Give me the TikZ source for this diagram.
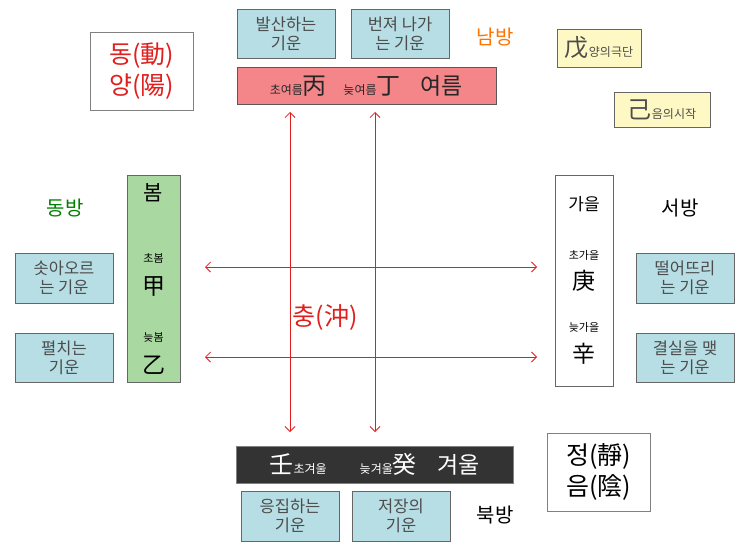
\documentclass[tikz,border=0pt]{standalone}
\usepackage{fontspec}
\setmainfont{Noto Sans CJK KR}
\usetikzlibrary{arrows.meta}
\definecolor{teal}{HTML}{B7DEE4}
\definecolor{yel}{HTML}{FDF8C4}
\definecolor{pinkb}{HTML}{F4868A}
\definecolor{grn}{HTML}{A9D8A0}
\definecolor{rd}{HTML}{E0201E}
\begin{document}
\begin{tikzpicture}[x=1pt,y=-1pt,
 box/.style={draw=gray!80!black,line width=0.8pt,fill=teal,inner sep=0pt,text=black!70,align=center,font=\fontsize{16.5}{19}\selectfont},
 arr/.style={draw=rd,line width=0.8pt,{Straight Barb[length=5pt,width=10pt]}-{Straight Barb[length=5pt,width=10pt]}},
 sm/.style={font=\fontsize{11}{12}\selectfont}]
\useasboundingbox (0,0) rectangle (743,557);
\node[box,fill=white,draw=gray,minimum width=103pt,minimum height=78pt,text=rd,font=\fontsize{25}{31}\selectfont] (yang) at (141.5,71) {동(動)\\양(陽)};
\node[box,minimum width=98pt,minimum height=49pt] (b1) at (286,33.5) {발산하는\\기운};
\node[box,minimum width=98pt,minimum height=49pt] (b2) at (400,33.5) {번져 나가\\는 기운};
\node[text=orange!90!red,font=\fontsize{20}{22}\selectfont] (nam) at (495,37) {남방};
\node[box,fill=yel,minimum width=84pt,minimum height=38pt] (mu) at (599,48) {\fontsize{24}{24}\selectfont 戊\fontsize{12}{12}\selectfont 양의극단};
\node[box,fill=yel,minimum width=96pt,minimum height=35pt] (gi) at (662,109.5) {\fontsize{24}{24}\selectfont 己\fontsize{12}{12}\selectfont 음의시작};
\node[box,fill=pinkb,draw=gray!70!black,minimum width=259pt,minimum height=37pt,text=black!85] (sum) at (366.5,85.5) {{\fontsize{12}{12}\selectfont 초여름}{\fontsize{24}{24}\selectfont 丙}\quad{\fontsize{12}{12}\selectfont 늦여름}{\fontsize{24}{24}\selectfont 丁}\quad\ {\fontsize{23}{23}\selectfont 여름}};
\node[box,fill=grn,minimum width=53pt,minimum height=207pt] (spr) at (153.5,278.5) {};
\node[font=\fontsize{21}{21}\selectfont] (bom) at (153.5,193) {봄};
\node[sm] (cb) at (153.5,258) {초봄};
\node[font=\fontsize{23}{23}\selectfont] (gap) at (153.5,286) {甲};
\node[sm] (nb) at (153.5,337) {늦봄};
\node[font=\fontsize{23}{23}\selectfont] (eul) at (153.5,365) {乙};
\node[text=green!50!black,font=\fontsize{20}{22}\selectfont] (dong) at (65,208) {동방};
\node[box,minimum width=98pt,minimum height=50pt] (e1) at (64,278) {솟아오르\\는 기운};
\node[box,minimum width=98pt,minimum height=49pt] (e2) at (64,357.5) {펼치는\\기운};
\node[box,fill=white,minimum width=58pt,minimum height=211pt] (aut) at (584,280.5) {};
\node[font=\fontsize{17}{17}\selectfont] (ga) at (584,204) {가을};
\node[sm] (cg) at (584,255) {초가을};
\node[font=\fontsize{23}{23}\selectfont] (gyeong) at (584,281) {庚};
\node[sm] (ng) at (584,327) {늦가을};
\node[font=\fontsize{23}{23}\selectfont] (sin) at (584,354) {辛};
\node[font=\fontsize{20}{22}\selectfont] (seo) at (680,208) {서방};
\node[box,minimum width=98pt,minimum height=50pt] (w1) at (685,278) {떨어뜨리\\는 기운};
\node[box,minimum width=98pt,minimum height=49pt] (w2) at (685,357.5) {결실을 맺\\는 기운};
\node[box,fill=black!80,draw=gray,minimum width=277pt,minimum height=37pt,text=white] (win) at (374.5,464.5) {{\fontsize{24}{24}\selectfont 壬}{\fontsize{12}{12}\selectfont 초겨울}\qquad{\fontsize{12}{12}\selectfont 늦겨울}{\fontsize{24}{24}\selectfont 癸}\quad\ {\fontsize{23}{23}\selectfont 겨울}};
\node[box,minimum width=98pt,minimum height=50pt] (n1) at (290,516) {응집하는\\기운};
\node[box,minimum width=98pt,minimum height=50pt] (n2) at (401,516) {저장의\\기운};
\node[font=\fontsize{20}{22}\selectfont] (buk) at (495,515) {북방};
\node[box,fill=white,draw=gray,minimum width=103pt,minimum height=78pt,text=black,font=\fontsize{25}{31}\selectfont] (eum) at (598.5,472) {정(靜)\\음(陰)};
\node[text=rd,font=\fontsize{25}{25}\selectfont] (chung) at (325,317) {충(沖)};
\coordinate (t1) at (290,112); \coordinate (d1) at (290,432);
\coordinate (t2) at (375,112); \coordinate (d2) at (375,432);
\coordinate (l1) at (205,267); \coordinate (r1) at (537,267);
\coordinate (l2) at (205,357); \coordinate (r2) at (537,357);
\draw[arr] (t1) -- (d1);
\draw[arr] (t2) -- (d2);
\draw[arr] (l1) -- (r1);
\draw[arr] (l2) -- (r2);
\end{tikzpicture}
\end{document}
